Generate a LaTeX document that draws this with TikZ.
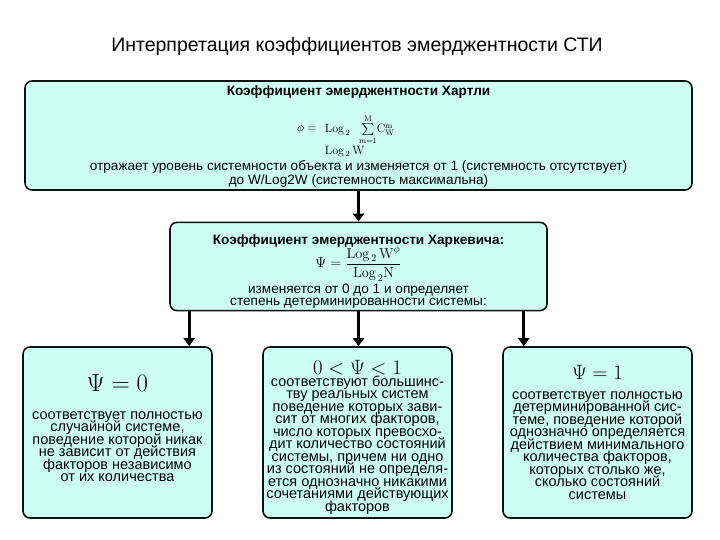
\documentclass[tikz,border=0pt]{standalone}
\usepackage{amsmath}
\usepackage[no-math]{fontspec}
\setmainfont{Liberation Sans}
\usetikzlibrary{arrows.meta}
\definecolor{stiBack}{HTML}{CCFFF2}
\definecolor{stiFrame}{HTML}{111111}
\newcommand\tightlines{\lineskiplimit=-100pt\relax}

\begin{document}
\begin{tikzpicture}[x=1pt,y=-1pt, box/.style={draw=stiFrame,fill=stiBack,line width=1.6pt,rounded corners=7pt,align=center,inner sep=2pt,font=\fontsize{13.6}{14}\selectfont\tightlines}, low/.style={box,minimum width=189pt,minimum height=171pt,font=\fontsize{14.5}{12.5}\selectfont\tightlines}, >={Triangle[width=11pt,length=8pt]}]
\useasboundingbox (0,0) rectangle (720,540);
\node[font=\fontsize{19.5}{22}\selectfont] (title) at (357,46) {Интерпретация коэффициентов эмерджентности СТИ};
\node[box,minimum width=667pt,minimum height=109pt] (hart) at (358.5,135.5) {\rule{0pt}{11pt}\textbf{Коэффициент эмерджентности Хартли}\\[22.5pt]
{\fontsize{12}{14}\selectfont\lineskiplimit=0pt$\phi = \raisebox{-8pt}{$\begin{array}{l}\mathrm{Log}_{\,2}\;\;\sum\limits_{\mathrm{m=1}}^{\mathrm{M}}\!\mathrm{C}_{\mathrm{W}}^{\mathrm{m}}\\[5pt] \mathrm{Log}_{\,2}\,\mathrm{W}\end{array}$}\hspace{20pt}$}\\[24.5pt]
отражает уровень системности объекта и изменяется от 1 (системность отсутствует)\\ до W/Log2W (системность максимальна)};
\node[box,minimum width=377pt,minimum height=87pt,font=\fontsize{13.6}{12.5}\selectfont\tightlines] (khar) at (358.5,266.5) {\rule{0pt}{20pt}\textbf{Коэффициент эмерджентности Харкевича:}\\[11pt]
{\fontsize{14}{16}\selectfont$\Psi = \dfrac{\mathrm{Log}_{\,2}\,\mathrm{W}^{\phi}}{\mathrm{Log}_{\,2}\mathrm{N}}$}\\[13pt]
изменяется от 0 до 1 и определяет\\ степень детерминированности системы:};
\node[low] (zero) at (117.5,432.5) {{\fontsize{23}{24}\selectfont$\Psi = 0$}\\[15pt]
соответствует полностью\\ случайной системе,\\ поведение которой никак\\ не зависит от действия\\ факторов независимо\\ от их количества\\[-4pt]\mbox{}};
\node[low] (some) at (357.5,432.5) {\rule{0pt}{24pt}{\fontsize{22}{22}\selectfont$0 < \Psi < 1$}\\[-1pt]
соответствуют большинс-\\ тву реальных систем\\ поведение которых зави-\\ сит от многих факторов,\\ число которых превосхо-\\ дит количество состояний\\ системы, причем ни одно\\ из состояний не определя-\\ ется однозначно никакими\\ сочетаниями действующих\\ факторов};
\node[low] (one) at (597.5,432.5) {{\fontsize{22}{24}\selectfont$\Psi = 1$}\\[7pt]
соответствует полностью\\ детерминированной сис-\\ теме, поведение которой\\ однозначно определяется\\ действием минимального\\ количества факторов,\\ которых столько же,\\ сколько состояний\\ системы};
\draw[->,line width=3pt] (hart.south) -- (khar.north);
\draw[->,line width=3pt] ([xshift=20pt]khar.south west) -- ([xshift=20pt]khar.south west |- zero.north);
\draw[->,line width=3pt] (khar.south) -- (khar.south |- some.north);
\draw[->,line width=3pt] ([xshift=-24pt]khar.south east) -- ([xshift=-24pt]khar.south east |- one.north);
\end{tikzpicture}
\end{document}
